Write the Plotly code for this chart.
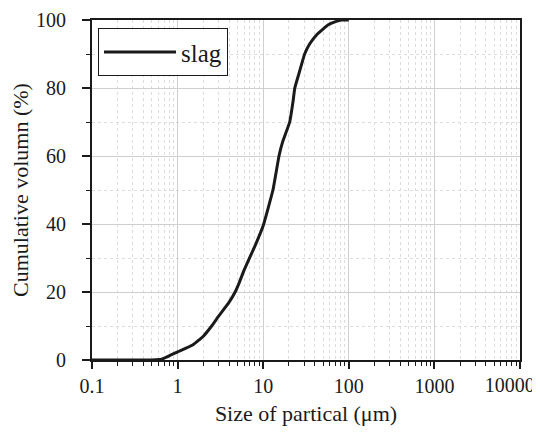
import plotly.graph_objects as go

size_um = [0.1, 0.2, 0.3, 0.4, 0.5, 0.65, 1.0, 1.5, 2.0, 2.5, 3.0, 4.0, 4.7, 5.3, 6.0, 8.0, 10.0,
           13.0, 15.3, 16.8, 20.4, 22.3, 23.4, 26.0, 30.5, 35.0, 42.0, 50.0, 57.0, 70.0, 82.0, 100.0]
cum_vol = [0, 0, 0, 0, 0, 0.2, 2.4, 4.4, 7.0, 10.0, 12.8, 17.0, 20.0, 23.0, 26.5, 33.5, 39.5,
           50.0, 60.0, 64.0, 70.0, 76.0, 80.0, 84.0, 90.0, 93.0, 95.6, 97.3, 98.5, 99.5, 100.0, 100.0]
series_name = "slag"
x_major = [0.1, 1, 10, 100, 1000, 10000]
x_major_text = ["0.1", "1", "10", "100", "1000", "10000"]
x_minor = [m * 10.0 ** k for k in range(-1, 4) for m in range(2, 10)]

font = "'Liberation Serif', 'Times New Roman', Times, serif"
x_range = [-1, 4.0002]
last_label_nudge = 0.12  # decades: keeps the last label inside the page

fig = go.Figure()
fig.add_trace(go.Scatter(
    x=size_um, y=cum_vol, mode="lines", name=series_name,
    line=dict(color="#1a1a1a", width=3, shape="spline", smoothing=0.3),
))
# helper trace so the overlay axis carrying the last tick label is drawn
fig.add_trace(go.Scatter(
    x=[x_major[-1]], y=[0], xaxis="x2", mode="none",
    showlegend=False, hoverinfo="skip",
))

fig.update_layout(
    width=540, height=432,
    margin=dict(l=84, r=28, t=12, b=80, autoexpand=False),
    paper_bgcolor="white", plot_bgcolor="white",
    font=dict(family=font, size=20, color="#1a1a1a"),
    showlegend=True,
    legend=dict(x=0.014, y=0.976, xanchor="left", yanchor="top",
                bordercolor="#1a1a1a", borderwidth=1, bgcolor="white",
                font=dict(family=font, size=25), itemwidth=72,
                tracegroupgap=0),
    xaxis2=dict(
        type="log", autorange=False,
        range=[x_range[0] + last_label_nudge, x_range[1] + last_label_nudge],
        overlaying="x", side="bottom", anchor="y", automargin=False,
        tickmode="array", tickvals=x_major[-1:], ticktext=x_major_text[-1:],
        ticklabeloverflow="allow",
        ticks="outside", ticklen=7, tickcolor="rgba(0,0,0,0)",
        showline=False, showgrid=False, zeroline=False,
        tickfont=dict(family=font, size=20),
    ),
)

fig.layout.xaxis.update(
    type="log", range=x_range, automargin=False,
    tickmode="array", tickvals=x_major, ticktext=x_major_text[:-1] + [""],
    ticklabeloverflow="allow",
    ticks="outside", ticklen=7, tickwidth=1.5, tickcolor="#1a1a1a",
    showline=True, linecolor="#1a1a1a", linewidth=1.8, mirror=True,
    showgrid=True, gridcolor="#cfcfcf", gridwidth=1,
    zeroline=False,
    minor=dict(tickmode="array", tickvals=x_minor, ticks="outside", ticklen=4,
               tickwidth=1.2, tickcolor="#1a1a1a", showgrid=True,
               gridcolor="#dcdcdc", griddash="dot", gridwidth=1),
    title=dict(text="Size of partical (μm)", font=dict(family=font, size=22), standoff=10),
    tickfont=dict(family=font, size=20),
)
fig.update_yaxes(
    range=[0, 100], dtick=20, tick0=0, automargin=False,
    ticks="outside", ticklen=8, tickwidth=1.5, tickcolor="#1a1a1a",
    ticklabelstandoff=12,
    showline=True, linecolor="#1a1a1a", linewidth=1.8, mirror=True,
    showgrid=True, gridcolor="#cfcfcf", gridwidth=1,
    zeroline=False,
    minor=dict(dtick=10, ticks="outside", ticklen=4, tickwidth=1.2,
               tickcolor="#1a1a1a", showgrid=True, gridcolor="#dcdcdc",
               griddash="dot", gridwidth=1),
    title=dict(text="Cumulative volumn (%)", font=dict(family=font, size=22), standoff=2),
    tickfont=dict(family=font, size=20),
)

fig.write_html("out.html")
